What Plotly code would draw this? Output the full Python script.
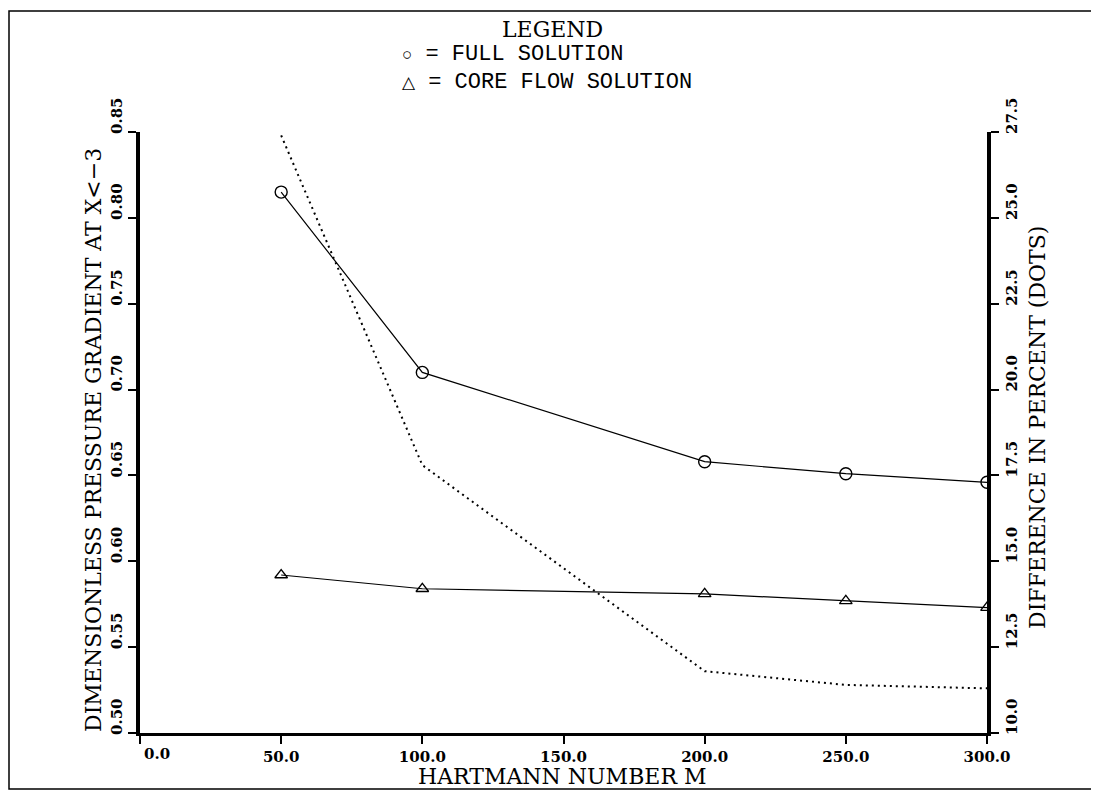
import plotly.graph_objects as go

# Data
hartmann = [50, 100, 200, 250, 300]
full_solution = [0.815, 0.710, 0.658, 0.651, 0.646]
core_flow = [0.592, 0.584, 0.581, 0.577, 0.573]
diff_percent = [27.4, 17.8, 11.8, 11.4, 11.3]

x_ticks = [0, 50, 100, 150, 200, 250, 300]
y_ticks = [0.50, 0.55, 0.60, 0.65, 0.70, 0.75, 0.80, 0.85]
y2_ticks = [10.0, 12.5, 15.0, 17.5, 20.0, 22.5, 25.0, 27.5]

# The page body adds an 8px offset; size the figure so it fits the 1099x793 window
OFF = 8
W, H = 1099 - OFF, 793 - OFF
# plot area in screen pixels: x 140..987, y 132..733
L, T = 140 - OFF, 132 - OFF
R, B = W - (987 - OFF), H - (733 - OFF)
PW, PH = W - L - R, H - T - B


def px_x(p):
    return (p - OFF - L) / PW


def px_y(p):
    return (H - B - (p - OFF)) / PH


fig = go.Figure()

fig.add_trace(go.Scatter(
    x=hartmann, y=full_solution, mode="lines+markers",
    line=dict(color="black", width=1.2),
    marker=dict(symbol="circle-open", size=12, color="black", line=dict(width=1.4)),
    showlegend=False))

fig.add_trace(go.Scatter(
    x=hartmann, y=core_flow, mode="lines+markers",
    line=dict(color="black", width=1.2),
    marker=dict(symbol="triangle-up-open", size=11, color="black", line=dict(width=1.3)),
    showlegend=False))

fig.add_trace(go.Scatter(
    x=hartmann, y=diff_percent, mode="lines", yaxis="y2",
    line=dict(color="black", width=2, dash="2px,4px"),
    showlegend=False))

tickfont = dict(family="DejaVu Serif", size=15, color="black")
titlefont = dict(family="DejaVu Serif", size=22, color="black")

x_text = ["" if v == 0 else f"<b>{v:.1f}</b>" for v in x_ticks]

fig.update_layout(
    width=W, height=H, autosize=False,
    margin=dict(l=L, r=R, t=T, b=B),
    paper_bgcolor="white", plot_bgcolor="white",
    xaxis=dict(
        range=[0, 300], tickvals=x_ticks, ticktext=x_text,
        ticks="outside", ticklen=8, tickwidth=1.5, tickcolor="black",
        showline=True, linecolor="black", linewidth=3, showgrid=False, zeroline=False,
        tickfont=tickfont,
    ),
    yaxis=dict(
        range=[0.50, 0.85], tickvals=y_ticks, ticktext=[f"<b>{v:.2f}</b>" for v in y_ticks],
        tickangle=-90, ticklabelshift=-14,
        ticks="outside", ticklen=8, tickwidth=1.5, tickcolor="black",
        showline=True, linecolor="black", linewidth=3.5, showgrid=False, zeroline=False,
        tickfont=tickfont,
    ),
    yaxis2=dict(
        range=[10.0, 27.5], tickvals=y2_ticks, ticktext=[f"<b>{v:.1f}</b>" for v in y2_ticks],
        tickangle=-90, ticklabelshift=-14, overlaying="y", side="right", anchor="x",
        ticks="outside", ticklen=8, tickwidth=1.5, tickcolor="black",
        showline=True, linecolor="black", linewidth=3.5, showgrid=False, zeroline=False,
        tickfont=tickfont,
    ),
)

# "0.0" label placed just right of its tick, as in the original
fig.add_annotation(x=x_ticks[0], y=0, xref="x", yref="paper", text="<b>0.0</b>",
                   showarrow=False, xanchor="left", yanchor="top", yshift=-10, xshift=2,
                   font=tickfont)

# Axis titles
fig.add_annotation(xref="paper", yref="paper", x=px_x(562), y=px_y(776),
                   text="HARTMANN NUMBER M", showarrow=False, font=titlefont,
                   xanchor="center", yanchor="middle")
fig.add_annotation(xref="paper", yref="paper", x=px_x(93), y=px_y(440),
                   text="DIMENSIONLESS PRESSURE GRADIENT AT X&lt;\u22123", textangle=-90,
                   showarrow=False, font=titlefont, xanchor="center", yanchor="middle")
fig.add_annotation(xref="paper", yref="paper", x=px_x(1037), y=px_y(428),
                   text="DIFFERENCE IN PERCENT (DOTS)", textangle=-90,
                   showarrow=False, font=titlefont, xanchor="center", yanchor="middle")

# Legend block (as text)
legfont = dict(family="Liberation Mono", size=22, color="black")
fig.add_annotation(xref="paper", yref="paper", x=px_x(552), y=px_y(30), text="LEGEND",
                   showarrow=False, font=titlefont, xanchor="center", yanchor="middle")
fig.add_annotation(xref="paper", yref="paper", x=px_x(400), y=px_y(55),
                   text="<span style='font-size:17px'>\u25cb</span> = FULL SOLUTION",
                   showarrow=False, font=legfont, xanchor="left", yanchor="middle")
fig.add_annotation(xref="paper", yref="paper", x=px_x(400), y=px_y(82),
                   text="<span style='font-size:17px'>\u25b3</span> = CORE FLOW SOLUTION",
                   showarrow=False, font=legfont, xanchor="left", yanchor="middle")

# Outer frame
fig.add_shape(type="rect", xref="paper", yref="paper",
              x0=px_x(9), x1=px_x(1094), y0=px_y(789), y1=px_y(11),
              line=dict(color="black", width=1.5), fillcolor="rgba(0,0,0,0)", layer="below")

fig.write_html("out.html")
